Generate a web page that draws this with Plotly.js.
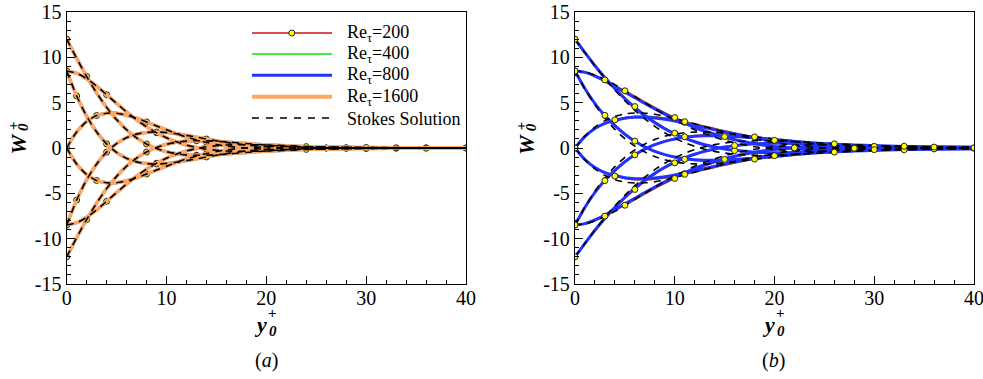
<!DOCTYPE html>
<html>
<head>
<meta charset="utf-8">
<script src="https://cdn.plot.ly/plotly-3.0.1.min.js"></script>
<style>
  html, body { margin: 0; padding: 0; background: #fff; }
  #chart { width: 983px; height: 379px; }
</style>
</head>
<body>
<div id="chart"></div>
<script>
// wall-normal positions y0+ shared by every profile
const yPlus = [0,1,2,3,4,5,6,7,8,9,10,11,12,13,14,15,16,18,20,22,24,26,28,30,33,36,40];

// ---- (a) spanwise velocity profiles W0+ at 8 phases (Stokes solution; DNS collapses onto it)
const stokesA_000 = [12, 9.89, 7.89, 6.08, 4.48, 3.13, 2.01, 1.12, 0.44, -0.06, -0.41, -0.63, -0.76, -0.80, -0.79, -0.74, -0.67, -0.49, -0.32, -0.18, -0.08, -0.01, 0.02, 0.03, 0.03, 0.02, 0.01];
const stokesA_045 = [8.49, 8.24, 7.64, 6.83, 5.88, 4.92, 3.98, 3.11, 2.34, 1.68, 1.12, 0.68, 0.32, 0.06, -0.13, -0.25, -0.33, -0.36, -0.33, -0.25, -0.16, -0.09, -0.04, -0.01, 0.01, 0.01, 0.01];
const stokesA_090 = [0, 1.77, 2.92, 3.58, 3.84, 3.83, 3.62, 3.28, 2.87, 2.43, 2.00, 1.59, 1.21, 0.89, 0.61, 0.39, 0.21, -0.02, -0.14, -0.17, -0.15, -0.12, -0.08, -0.05, -0.02, 0.00, 0.01];
const stokesA_135 = [-8.49, -5.74, -3.51, -1.77, -0.45, 0.49, 1.14, 1.53, 1.72, 1.76, 1.70, 1.57, 1.39, 1.20, 0.99, 0.80, 0.62, 0.33, 0.13, 0.01, -0.05, -0.08, -0.07, -0.06, -0.04, -0.01, 0.00];
const stokesA_180 = [-12, -9.89, -7.89, -6.08, -4.48, -3.13, -2.01, -1.12, -0.44, 0.06, 0.41, 0.63, 0.76, 0.80, 0.79, 0.74, 0.67, 0.49, 0.32, 0.18, 0.08, 0.01, -0.02, -0.03, -0.03, -0.02, -0.01];
const stokesA_225 = [-8.49, -8.24, -7.64, -6.83, -5.88, -4.92, -3.98, -3.11, -2.34, -1.68, -1.12, -0.68, -0.32, -0.06, 0.13, 0.25, 0.33, 0.36, 0.33, 0.25, 0.16, 0.09, 0.04, 0.01, -0.01, -0.01, -0.01];
const stokesA_270 = [0, -1.77, -2.92, -3.58, -3.84, -3.83, -3.62, -3.28, -2.87, -2.43, -2.00, -1.59, -1.21, -0.89, -0.61, -0.39, -0.21, 0.02, 0.14, 0.17, 0.15, 0.12, 0.08, 0.05, 0.02, 0.00, -0.01];
const stokesA_315 = [8.49, 5.74, 3.51, 1.77, 0.45, -0.49, -1.14, -1.53, -1.72, -1.76, -1.70, -1.57, -1.39, -1.20, -0.99, -0.80, -0.62, -0.33, -0.13, -0.01, 0.05, 0.08, 0.07, 0.06, 0.04, 0.01, 0.00];

// ---- (b) Stokes solution
const stokesB_000 = [12, 10.51, 9.06, 7.67, 6.39, 5.21, 4.15, 3.21, 2.39, 1.68, 1.08, 0.59, 0.19, -0.13, -0.37, -0.55, -0.68, -0.79, -0.79, -0.71, -0.59, -0.46, -0.34, -0.23, -0.11, -0.03, 0.02];
const stokesB_045 = [8.49, 8.37, 8.04, 7.56, 6.99, 6.34, 5.66, 4.99, 4.32, 3.68, 3.07, 2.52, 2.02, 1.58, 1.19, 0.86, 0.57, 0.13, -0.14, -0.30, -0.36, -0.36, -0.33, -0.28, -0.19, -0.11, -0.04];
const stokesB_090 = [0, 1.32, 2.31, 3.02, 3.49, 3.76, 3.86, 3.84, 3.72, 3.52, 3.26, 2.98, 2.67, 2.36, 2.05, 1.76, 1.48, 0.98, 0.59, 0.29, 0.08, -0.05, -0.13, -0.16, -0.16, -0.13, -0.08];
const stokesB_135 = [-8.49, -6.50, -4.77, -3.29, -2.05, -1.03, -0.21, 0.45, 0.94, 1.30, 1.54, 1.69, 1.75, 1.76, 1.71, 1.63, 1.53, 1.25, 0.98, 0.71, 0.47, 0.29, 0.15, 0.05, -0.04, -0.07, -0.07];
const stokesB_180 = [-12, -10.51, -9.06, -7.67, -6.39, -5.21, -4.15, -3.21, -2.39, -1.68, -1.08, -0.59, -0.19, 0.13, 0.37, 0.55, 0.68, 0.79, 0.79, 0.71, 0.59, 0.46, 0.34, 0.23, 0.11, 0.03, -0.02];
const stokesB_225 = [-8.49, -8.37, -8.04, -7.56, -6.99, -6.34, -5.66, -4.99, -4.32, -3.68, -3.07, -2.52, -2.02, -1.58, -1.19, -0.86, -0.57, -0.13, 0.14, 0.30, 0.36, 0.36, 0.33, 0.28, 0.19, 0.11, 0.04];
const stokesB_270 = [0, -1.32, -2.31, -3.02, -3.49, -3.76, -3.86, -3.84, -3.72, -3.52, -3.26, -2.98, -2.67, -2.36, -2.05, -1.76, -1.48, -0.98, -0.59, -0.29, -0.08, 0.05, 0.13, 0.16, 0.16, 0.13, 0.08];
const stokesB_315 = [8.49, 6.50, 4.77, 3.29, 2.05, 1.03, 0.21, -0.45, -0.94, -1.30, -1.54, -1.69, -1.75, -1.76, -1.71, -1.63, -1.53, -1.25, -0.98, -0.71, -0.47, -0.29, -0.15, -0.05, 0.04, 0.07, 0.07];

// ---- (b) DNS, Re_tau = 200
const dnsB200_000 = [12, 10.56, 9.16, 7.86, 6.67, 5.57, 4.57, 3.68, 2.90, 2.23, 1.64, 1.14, 0.73, 0.38, 0.11, -0.12, -0.28, -0.50, -0.58, -0.58, -0.54, -0.46, -0.37, -0.29, -0.18, -0.10, -0.03];
const dnsB200_045 = [8.49, 8.38, 8.02, 7.51, 6.91, 6.31, 5.71, 5.08, 4.48, 3.91, 3.36, 2.86, 2.40, 1.97, 1.59, 1.26, 0.98, 0.51, 0.19, -0.02, -0.15, -0.22, -0.24, -0.23, -0.19, -0.14, -0.08];
const dnsB200_090 = [0, 1.29, 2.18, 2.76, 3.10, 3.36, 3.49, 3.51, 3.44, 3.30, 3.12, 2.90, 2.66, 2.41, 2.15, 1.90, 1.66, 1.22, 0.85, 0.55, 0.32, 0.15, 0.03, -0.03, -0.09, -0.10, -0.08];
const dnsB200_135 = [-8.49, -6.56, -4.94, -3.60, -2.52, -1.56, -0.76, -0.12, 0.38, 0.76, 1.05, 1.24, 1.37, 1.43, 1.44, 1.43, 1.37, 1.22, 1.01, 0.80, 0.61, 0.44, 0.29, 0.18, 0.07, 0.00, -0.03];
const dnsB200_180 = [-12, -10.56, -9.16, -7.86, -6.67, -5.57, -4.57, -3.68, -2.90, -2.23, -1.64, -1.14, -0.73, -0.38, -0.11, 0.12, 0.28, 0.50, 0.58, 0.58, 0.54, 0.46, 0.37, 0.29, 0.18, 0.10, 0.03];
const dnsB200_225 = [-8.49, -8.38, -8.02, -7.51, -6.91, -6.31, -5.71, -5.08, -4.48, -3.91, -3.36, -2.86, -2.40, -1.97, -1.59, -1.26, -0.98, -0.51, -0.19, 0.02, 0.15, 0.22, 0.24, 0.23, 0.19, 0.14, 0.08];
const dnsB200_270 = [0, -1.29, -2.18, -2.76, -3.10, -3.36, -3.49, -3.51, -3.44, -3.30, -3.12, -2.90, -2.66, -2.41, -2.15, -1.90, -1.66, -1.22, -0.85, -0.55, -0.32, -0.15, -0.03, 0.03, 0.09, 0.10, 0.08];
const dnsB200_315 = [8.49, 6.56, 4.94, 3.60, 2.52, 1.56, 0.76, 0.12, -0.38, -0.76, -1.05, -1.24, -1.37, -1.43, -1.44, -1.43, -1.37, -1.22, -1.01, -0.80, -0.61, -0.44, -0.29, -0.18, -0.07, 0.00, 0.03];

// ---- (b) DNS, Re_tau = 400
const dnsB400_000 = [12, 10.54, 9.12, 7.80, 6.61, 5.50, 4.51, 3.62, 2.85, 2.18, 1.60, 1.11, 0.71, 0.37, 0.10, -0.11, -0.27, -0.48, -0.56, -0.56, -0.51, -0.44, -0.36, -0.27, -0.17, -0.09, -0.03];
const dnsB400_045 = [8.49, 8.36, 7.98, 7.46, 6.84, 6.24, 5.62, 5.00, 4.40, 3.82, 3.28, 2.78, 2.33, 1.91, 1.54, 1.21, 0.95, 0.49, 0.18, -0.02, -0.15, -0.21, -0.23, -0.22, -0.18, -0.14, -0.07];
const dnsB400_090 = [0, 1.28, 2.17, 2.74, 3.07, 3.32, 3.44, 3.45, 3.38, 3.23, 3.04, 2.83, 2.59, 2.33, 2.08, 1.84, 1.60, 1.17, 0.81, 0.53, 0.30, 0.15, 0.03, -0.03, -0.08, -0.09, -0.07];
const dnsB400_135 = [-8.49, -6.55, -4.91, -3.58, -2.49, -1.54, -0.75, -0.12, 0.38, 0.75, 1.03, 1.21, 1.33, 1.38, 1.40, 1.38, 1.32, 1.17, 0.97, 0.77, 0.58, 0.42, 0.27, 0.17, 0.06, 0.00, -0.03];
const dnsB400_180 = [-12, -10.54, -9.12, -7.80, -6.61, -5.50, -4.51, -3.62, -2.85, -2.18, -1.60, -1.11, -0.71, -0.37, -0.10, 0.11, 0.27, 0.48, 0.56, 0.56, 0.51, 0.44, 0.36, 0.27, 0.17, 0.09, 0.03];
const dnsB400_225 = [-8.49, -8.36, -7.98, -7.46, -6.84, -6.24, -5.62, -5.00, -4.40, -3.82, -3.28, -2.78, -2.33, -1.91, -1.54, -1.21, -0.95, -0.49, -0.18, 0.02, 0.15, 0.21, 0.23, 0.22, 0.18, 0.14, 0.07];
const dnsB400_270 = [0, -1.28, -2.17, -2.74, -3.07, -3.32, -3.44, -3.45, -3.38, -3.23, -3.04, -2.83, -2.59, -2.33, -2.08, -1.84, -1.60, -1.17, -0.81, -0.53, -0.30, -0.15, -0.03, 0.03, 0.08, 0.09, 0.07];
const dnsB400_315 = [8.49, 6.55, 4.91, 3.58, 2.49, 1.54, 0.75, 0.12, -0.38, -0.75, -1.03, -1.21, -1.33, -1.38, -1.40, -1.38, -1.32, -1.17, -0.97, -0.77, -0.58, -0.42, -0.27, -0.17, -0.06, 0.00, 0.03];

// ---- (b) DNS, Re_tau = 800
const dnsB800_000 = [12, 10.51, 9.07, 7.74, 6.54, 5.43, 4.44, 3.56, 2.79, 2.13, 1.56, 1.08, 0.69, 0.36, 0.10, -0.11, -0.26, -0.46, -0.53, -0.53, -0.49, -0.42, -0.34, -0.26, -0.16, -0.09, -0.03];
const dnsB800_045 = [8.49, 8.34, 7.94, 7.40, 6.77, 6.16, 5.54, 4.91, 4.31, 3.74, 3.20, 2.71, 2.26, 1.85, 1.49, 1.17, 0.91, 0.47, 0.17, -0.02, -0.14, -0.20, -0.22, -0.21, -0.17, -0.13, -0.07];
const dnsB800_090 = [0, 1.28, 2.16, 2.72, 3.04, 3.28, 3.39, 3.39, 3.31, 3.16, 2.97, 2.75, 2.51, 2.26, 2.01, 1.77, 1.54, 1.12, 0.77, 0.50, 0.29, 0.14, 0.03, -0.03, -0.08, -0.09, -0.07];
const dnsB800_135 = [-8.49, -6.53, -4.89, -3.55, -2.47, -1.52, -0.74, -0.12, 0.37, 0.73, 1.00, 1.18, 1.29, 1.34, 1.35, 1.33, 1.27, 1.12, 0.92, 0.73, 0.55, 0.40, 0.26, 0.16, 0.06, 0.00, -0.03];
const dnsB800_180 = [-12, -10.51, -9.07, -7.74, -6.54, -5.43, -4.44, -3.56, -2.79, -2.13, -1.56, -1.08, -0.69, -0.36, -0.10, 0.11, 0.26, 0.46, 0.53, 0.53, 0.49, 0.42, 0.34, 0.26, 0.16, 0.09, 0.03];
const dnsB800_225 = [-8.49, -8.34, -7.94, -7.40, -6.77, -6.16, -5.54, -4.91, -4.31, -3.74, -3.20, -2.71, -2.26, -1.85, -1.49, -1.17, -0.91, -0.47, -0.17, 0.02, 0.14, 0.20, 0.22, 0.21, 0.17, 0.13, 0.07];
const dnsB800_270 = [0, -1.28, -2.16, -2.72, -3.04, -3.28, -3.39, -3.39, -3.31, -3.16, -2.97, -2.75, -2.51, -2.26, -2.01, -1.77, -1.54, -1.12, -0.77, -0.50, -0.29, -0.14, -0.03, 0.03, 0.08, 0.09, 0.07];
const dnsB800_315 = [8.49, 6.53, 4.89, 3.55, 2.47, 1.52, 0.74, 0.12, -0.37, -0.73, -1.00, -1.18, -1.29, -1.34, -1.35, -1.33, -1.27, -1.12, -0.92, -0.73, -0.55, -0.40, -0.26, -0.16, -0.06, 0.00, 0.03];

// axis ticks and legend labels
const xTickVals = [0, 10, 20, 30, 40];
const xTickText = ['0', '10', '20', '30', '40'];
const yTickVals = [-15, -10, -5, 0, 5, 10, 15];
const yTickText = ['-15', '-10', '-5', '0', '5', '10', '15'];
const legendNames = ['Re<sub>τ</sub>=200', 'Re<sub>τ</sub>=400', 'Re<sub>τ</sub>=800', 'Re<sub>τ</sub>=1600', 'Stokes Solution'];

// ---------------------------------------------------------------- drawing
const W = 983, H = 379;
const px = v => v / W;
const py = v => 1 - v / H;
const FONT = 'Liberation Serif';

const stokesA = [stokesA_000, stokesA_045, stokesA_090, stokesA_135, stokesA_180, stokesA_225, stokesA_270, stokesA_315];
const stokesB = [stokesB_000, stokesB_045, stokesB_090, stokesB_135, stokesB_180, stokesB_225, stokesB_270, stokesB_315];
const dnsB200 = [dnsB200_000, dnsB200_045, dnsB200_090, dnsB200_135, dnsB200_180, dnsB200_225, dnsB200_270, dnsB200_315];
const dnsB400 = [dnsB400_000, dnsB400_045, dnsB400_090, dnsB400_135, dnsB400_180, dnsB400_225, dnsB400_270, dnsB400_315];
const dnsB800 = [dnsB800_000, dnsB800_045, dnsB800_090, dnsB800_135, dnsB800_180, dnsB800_225, dnsB800_270, dnsB800_315];

// where the Re_tau=200 symbols sit on each phase (by y0+), mirrored phases share a set
const symbolsA = [[0, 2, 8, 13, 26, 36], [0, 4, 9, 14, 28, 40], [0, 3, 8, 13, 24, 33], [0, 1, 4, 9, 14, 30]];
const symbolsB = [[0, 6, 10, 16, 26, 36], [0, 3, 5, 10, 15, 22, 33], [0, 4, 11, 20, 28], [0, 3, 6, 11, 18, 30, 40]];

const COLORS = { re200: '#cc1010', re400: '#10dd10', re800: '#2233ff', re1600: '#fda862', stokes: '#000000' };

function lineTrace(ax, data, color, width, dash) {
  return {
    type: 'scatter', mode: 'lines', x: yPlus, y: data,
    xaxis: ax[0], yaxis: ax[1],
    line: { color: color, width: width, dash: dash || 'solid', shape: 'spline', smoothing: 0.8 },
    hoverinfo: 'skip', showlegend: false
  };
}
function symbolTrace(ax, data, at) {
  const idx = at.map(v => yPlus.indexOf(v));
  return {
    type: 'scatter', mode: 'markers',
    x: idx.map(i => yPlus[i]), y: idx.map(i => data[i]),
    xaxis: ax[0], yaxis: ax[1],
    marker: { symbol: 'circle', size: 6, color: '#ffff00', line: { color: '#222', width: 1 } },
    hoverinfo: 'skip', showlegend: false
  };
}

const traces = [];
const axA = ['x', 'y'], axB = ['x2', 'y2'];

// (a): all Reynolds numbers lie on the Stokes profiles
stokesA.forEach(d => traces.push(lineTrace(axA, d, COLORS.re200, 1.5)));
stokesA.forEach((d, i) => traces.push(symbolTrace(axA, d, symbolsA[i % 4])));
stokesA.forEach(d => traces.push(lineTrace(axA, d, COLORS.re400, 1.5)));
stokesA.forEach(d => traces.push(lineTrace(axA, d, COLORS.re800, 3)));
stokesA.forEach(d => traces.push(lineTrace(axA, d, COLORS.re1600, 3.5)));
stokesA.forEach(d => traces.push(lineTrace(axA, d, COLORS.stokes, 1.6, '7px,6px')));

// (b)
dnsB200.forEach(d => traces.push(lineTrace(axB, d, COLORS.re200, 1.5)));
dnsB400.forEach(d => traces.push(lineTrace(axB, d, COLORS.re400, 1.5)));
dnsB800.forEach(d => traces.push(lineTrace(axB, d, COLORS.re800, 3)));
stokesB.forEach(d => traces.push(lineTrace(axB, d, COLORS.stokes, 1.6, '7px,6px')));
dnsB200.forEach((d, i) => traces.push(symbolTrace(axB, d, symbolsB[i % 4])));

const baseAxis = {
  showline: true, linecolor: '#000', linewidth: 1.2, mirror: true,
  ticks: 'inside', tickcolor: '#000', tickwidth: 1, ticklen: 8,
  showgrid: false, zeroline: false, fixedrange: true,
  tickfont: { family: FONT, size: 20, color: '#000' },
  tickmode: 'array', ticklabeloverflow: 'allow'
};
const xAxis = (dom, anchor) => Object.assign({}, baseAxis, {
  domain: dom, range: [0, 40], anchor: anchor,
  tickvals: xTickVals, ticktext: xTickText, ticklabelstandoff: -4,
  minor: { dtick: 2, tick0: 0, ticks: 'inside', ticklen: 4, tickcolor: '#000', tickwidth: 1, showgrid: false }
});
const yAxis = (anchor) => Object.assign({}, baseAxis, {
  domain: [py(284), py(12)], range: [-15, 15], anchor: anchor,
  tickvals: yTickVals, ticktext: yTickText,
  minor: { dtick: 1, tick0: 0, ticks: 'inside', ticklen: 4, tickcolor: '#000', tickwidth: 1, showgrid: false }
});

// axis titles with stacked sub/superscripts
function titleNotes(dx) {
  const note = (text, x, y, size, angle) => ({
    text: text, x: px(x + dx), y: py(y), xref: 'paper', yref: 'paper',
    showarrow: false, xanchor: 'center', yanchor: 'middle', textangle: angle || 0,
    font: { family: FONT, size: size, color: '#000' }
  });
  return [
    note('<b><i>W</i></b>', 17.6, 144, 22, -90),
    note('<b><i>0</i></b>', 23, 127, 15, -90),
    note('<b>+</b>', 12.5, 125.5, 15, -90),
    note('<b><i>y</i></b>', 260, 324, 22),
    note('<b><i>0</i></b>', 272.5, 331, 15),
    note('<b>+</b>', 272.5, 313, 15)
  ];
}

const annotations = [].concat(
  titleNotes(0), titleNotes(508.3),
  [
    { text: '(<i>a</i>)', x: px(266), y: py(360.5), xref: 'paper', yref: 'paper', showarrow: false, xanchor: 'center', yanchor: 'middle', font: { family: FONT, size: 20, color: '#000' } },
    { text: '(<i>b</i>)', x: px(773), y: py(360.5), xref: 'paper', yref: 'paper', showarrow: false, xanchor: 'center', yanchor: 'middle', font: { family: FONT, size: 20, color: '#000' } }
  ]
);

// legend of panel (a), drawn as paper-space samples
const legendRows = [33, 54, 75.3, 96.7, 118];
const legendStyles = [
  { color: COLORS.re200, width: 1.5, dash: 'solid' },
  { color: COLORS.re400, width: 1.5, dash: 'solid' },
  { color: COLORS.re800, width: 3, dash: 'solid' },
  { color: COLORS.re1600, width: 4, dash: 'solid' },
  { color: COLORS.stokes, width: 1.6, dash: '7px,7px' }
];
const shapes = [];
legendRows.forEach((r, i) => {
  shapes.push({ type: 'line', xref: 'paper', yref: 'paper', x0: px(252), x1: px(332), y0: py(r), y1: py(r), line: legendStyles[i] });
  annotations.push({ text: legendNames[i], x: px(345), y: py(r + 0.5), xref: 'paper', yref: 'paper', showarrow: false, xanchor: 'left', yanchor: 'middle', font: { family: FONT, size: 18, color: '#000' } });
});
shapes.push({ type: 'circle', xref: 'paper', yref: 'paper', x0: px(288.8), x1: px(294.8), y0: py(36), y1: py(30), fillcolor: '#ffff00', line: { color: '#222', width: 1 } });

const layout = {
  width: W, height: H,
  margin: { l: 0, r: 0, t: 0, b: 0, pad: 0 },
  paper_bgcolor: '#fff', plot_bgcolor: '#fff',
  showlegend: false,
  xaxis: xAxis([px(66.7), px(466)], 'y'),
  yaxis: yAxis('x'),
  xaxis2: xAxis([px(575), px(974)], 'y2'),
  yaxis2: yAxis('x2'),
  annotations: annotations,
  shapes: shapes,
  font: { family: FONT, color: '#000' }
};

Plotly.newPlot('chart', traces, layout, { staticPlot: true, displayModeBar: false });
</script>
</body>
</html>
